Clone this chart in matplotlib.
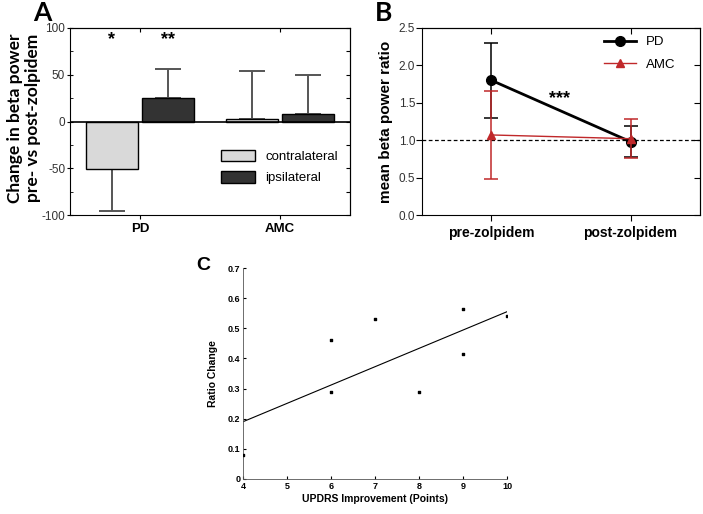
import matplotlib
matplotlib.use("Agg")
import matplotlib.pyplot as plt
from matplotlib.patches import Patch
from matplotlib.lines import Line2D
import numpy as np

plt.rcParams["axes.unicode_minus"] = False

# ---- Panel A data ----
groups_a = ["PD", "AMC"]
contra_vals = [-51, 3]
contra_err = [45, 51]      # one-sided (away from zero)
ipsi_vals = [25, 8]
ipsi_err = [31, 42]
stars_a = ["*", "**"]

# ---- Panel B data ----
conds_b = ["pre-zolpidem", "post-zolpidem"]
pd_mean = [1.80, 0.98]
pd_err = [0.50, 0.21]
amc_mean = [1.07, 1.02]
amc_err = [0.59, 0.26]

# ---- Panel C data ----
updrs = [4, 6, 6, 7, 8, 9, 9, 10]
ratio_change = [0.08, 0.46, 0.29, 0.53, 0.29, 0.565, 0.415, 0.54]
fit_x = [4, 10]
fit_y = [0.19, 0.555]

W, H = 703, 514
fig = plt.figure(figsize=(W / 100, H / 100), dpi=100)

ARIAL = "Liberation Sans"
CAL = "Lato"

def fx(px):
    return px / W

def fy(py):
    return 1 - py / H

# ================= Panel A =================
axA = fig.add_axes([fx(70), fy(215), fx(350) - fx(70), fy(28) - fy(215)])
x = np.arange(len(groups_a))
bw = 0.37
off = 0.2
axA.bar(x - off, contra_vals, bw, color="#d9d9d9", edgecolor="black", linewidth=1, zorder=3)
axA.bar(x + off, ipsi_vals, bw, color="#333333", edgecolor="black", linewidth=1, zorder=3)
for xi, v, e in zip(x - off, contra_vals, contra_err):
    lo = [0] if v >= 0 else [e]
    hi = [e] if v >= 0 else [0]
    axA.errorbar([xi], [v], yerr=[lo, hi], fmt="none", ecolor="#555555",
                 elinewidth=1.4, capsize=9.7, capthick=1.4, zorder=2)
for xi, v, e in zip(x + off, ipsi_vals, ipsi_err):
    axA.errorbar([xi], [v], yerr=[[0], [e]], fmt="none", ecolor="#555555",
                 elinewidth=1.4, capsize=9.7, capthick=1.4, zorder=2)
axA.axhline(0, color="black", linewidth=1.2, zorder=4)
axA.set_xlim(-0.5, 1.5)
axA.set_ylim(-100, 100)
axA.set_yticks([-100, -50, 0, 50, 100])
axA.set_yticks([-75, -25, 25, 75], minor=True)
axA.set_xticks(x)
axA.set_xticklabels(groups_a, fontfamily=ARIAL, fontweight="bold", fontsize=9.5)
for lab in axA.get_yticklabels():
    lab.set_fontfamily(ARIAL)
    lab.set_fontsize(8.5)
    lab.set_color("#333333")
axA.tick_params(axis="y", which="major", direction="inout", length=5, pad=1)
axA.tick_params(axis="y", which="minor", direction="in", length=2.5)
axA.tick_params(axis="x", direction="out", length=3, pad=3)
secAr = axA.secondary_yaxis("right")
secAr.set_yticks([-100, -75, -50, -25, 0, 25, 50, 75, 100])
secAr.tick_params(direction="in", length=3, labelright=False)
secAt = axA.secondary_xaxis("top")
secAt.set_xticks(x)
secAt.tick_params(direction="in", length=3, labeltop=False)
fig.text(fx(24), fy(118), "Change in beta power\npre- vs post-zolpidem", fontfamily=CAL,
         fontweight="bold", fontsize=12.5, linespacing=1.2, rotation=90,
         ha="center", va="center")
axA.text(x[0] - off, 88, stars_a[0], ha="center", va="center", fontsize=13,
         fontweight="bold", fontfamily=ARIAL)
axA.text(x[0] + off, 88, stars_a[1], ha="center", va="center", fontsize=13,
         fontweight="bold", fontfamily=ARIAL)
axA.legend(handles=[Patch(facecolor="#d9d9d9", edgecolor="black", label="contralateral"),
                    Patch(facecolor="#333333", edgecolor="black", label="ipsilateral")],
           loc="lower right", bbox_to_anchor=(1.0, 0.1), frameon=False,
           prop={"family": ARIAL, "size": 9.5}, handlelength=2.6,
           handleheight=1.0, labelspacing=0.6, handletextpad=0.8)
fig.text(fx(42), fy(13), "A", fontsize=19, fontweight="bold", fontfamily=CAL,
         ha="center", va="center")

# ================= Panel B =================
axB = fig.add_axes([fx(422), fy(215), fx(700) - fx(422), fy(28) - fy(215)])
xb = np.arange(len(conds_b))
axB.axhline(1.0, color="black", linestyle=(0, (3, 2)), linewidth=0.9, zorder=1)
axB.errorbar(xb, pd_mean, yerr=pd_err, color="black", marker="o", markersize=7,
             linewidth=2, elinewidth=1.1, capsize=5, capthick=1.1, zorder=3)
axB.errorbar(xb, amc_mean, yerr=amc_err, color="#c0282a", marker="^", markersize=6,
             linewidth=1, elinewidth=1.1, capsize=5, capthick=1.1, zorder=4)
axB.set_xlim(-0.5, 1.5)
axB.set_ylim(0, 2.5)
ytb = np.arange(0, 2.51, 0.5)
axB.set_yticks(ytb)
axB.set_yticklabels([f"{v:.1f}" for v in ytb], fontfamily=ARIAL,
                    fontsize=8.5, color="#333333")
axB.set_xticks(xb)
axB.set_xticklabels(conds_b, fontfamily=ARIAL, fontweight="bold", fontsize=10)
axB.tick_params(axis="y", direction="out", length=4, pad=1)
axB.tick_params(axis="x", direction="out", length=4, pad=4)
secBr = axB.secondary_yaxis("right")
secBr.set_yticks(ytb)
secBr.tick_params(direction="in", length=4, labelright=False)
secBt = axB.secondary_xaxis("top")
secBt.set_xticks(xb)
secBt.tick_params(direction="in", length=4, labeltop=False)
axB.set_ylabel("mean beta power ratio", fontfamily=ARIAL, fontweight="bold",
               fontsize=11, labelpad=4)
axB.text(0.49, 1.56, "***", ha="center", va="center", fontsize=13,
         fontweight="bold", fontfamily=ARIAL)
axB.legend(handles=[Line2D([0], [0], color="black", marker="o", markersize=7,
                           linewidth=2, label="PD"),
                    Line2D([0], [0], color="#c0282a", marker="^", markersize=6,
                           linewidth=1, label="AMC")],
           loc="upper right", bbox_to_anchor=(0.955, 1.02), frameon=False,
           prop={"family": ARIAL, "size": 9.5}, handlelength=2.4,
           labelspacing=0.75, handletextpad=0.8)
fig.text(fx(384), fy(13), "B", fontsize=19, fontweight="bold", fontfamily=CAL,
         ha="center", va="center")

# ================= Panel C =================
axC = fig.add_axes([fx(243), fy(479), fx(507) - fx(243), fy(268) - fy(479)])
axC.plot(fit_x, fit_y, color="black", linewidth=0.8)
axC.scatter(updrs, ratio_change, s=3, color="black", marker="s", zorder=3)
axC.set_xlim(4, 10)
axC.set_ylim(0, 0.7)
axC.set_xticks(range(4, 11))
axC.set_xticklabels([str(v) for v in range(4, 11)], fontfamily=ARIAL,
                    fontweight="bold", fontsize=6.5)
yt = np.round(np.arange(0, 0.71, 0.1), 1)
axC.set_yticks(yt)
axC.set_yticklabels(["0"] + [f"{v:.1f}" for v in yt[1:]], fontfamily=ARIAL,
                    fontweight="bold", fontsize=6.5)
axC.tick_params(direction="in", length=2, pad=2)
axC.spines["top"].set_visible(False)
axC.spines["right"].set_visible(False)
for sp in ["left", "bottom"]:
    axC.spines[sp].set_linewidth(0.6)
    axC.spines[sp].set_color("#555555")
axC.set_xlabel("UPDRS Improvement (Points)", fontfamily=ARIAL, fontweight="bold",
               fontsize=7.5, labelpad=2)
axC.set_ylabel("Ratio Change", fontfamily=ARIAL, fontweight="bold", fontsize=7.5,
               labelpad=7)
fig.text(fx(203), fy(266), "C", fontsize=14, fontweight="bold", fontfamily=ARIAL,
         ha="center", va="center")

fig.savefig("out.png", dpi=100)
